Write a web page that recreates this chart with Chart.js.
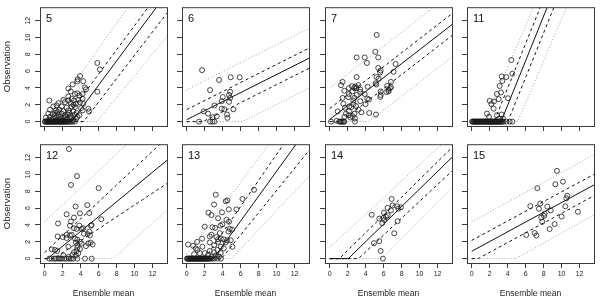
<!DOCTYPE html>
<html><head><meta charset="utf-8">
<script src="https://cdn.jsdelivr.net/npm/chart.js@4/dist/chart.umd.min.js"></script>
<style>
html,body{margin:0;padding:0;background:#fff;width:600px;height:302px;overflow:hidden;position:relative}
canvas{position:absolute}
</style></head><body>
<script>
// ---------- DATA ----------
const panelNames = ['5','6','7','11','12','13','14','15'];
const tickValues = [0,2,4,6,8,10,12];
const xTitle = 'Ensemble mean';
const yTitle = 'Observation';

// [ensemble mean, observation] pairs with observation > 0
const pts5 = [[5.85,6.97],[6.14,6.2],[3.93,5.42],[3.67,5.03],[3.11,4.42],[3.63,4.77],[2.63,3.94],[4.29,4.8],[4.48,4.06],[5.85,3.55],[4.59,3.83],[2.9,3.59],[3.37,3.28],[3.63,3.36],[3.85,3.09],[4.22,3.28],[2.63,2.98],[2.07,2.59],[2.63,2.51],[3.0,2.71],[3.26,2.51],[3.74,2.59],[4.22,2.71],[0.52,2.51],[1.52,2.2],[2.26,2.32],[2.89,2.2],[3.48,2.12],[3.93,2.28],[4.29,2.12],[0.96,1.8],[1.33,1.92],[1.89,1.8],[2.44,1.65],[3.0,1.8],[3.37,1.73],[4.22,1.34],[4.85,1.53],[4.93,1.22],[0.59,1.42],[1.26,1.34],[1.63,1.42],[2.07,1.26],[2.63,1.34],[3.18,1.22],[3.55,1.03],[0.4,0.95],[0.89,0.87],[1.15,1.03],[1.52,0.76],[1.89,0.95],[2.26,0.76],[2.55,0.87],[2.89,0.68],[3.29,0.84],[3.63,0.57],[3.85,0.76],[0.14,0.49],[0.59,0.57],[0.96,0.37],[1.33,0.49],[1.7,0.3],[2.07,0.45],[2.44,0.26],[2.81,0.37],[3.18,0.18],[3.48,0.33],[0.4,0.18],[1.33,0.1],[1.1,0.65],[1.75,0.6],[2.3,0.55],[2.7,1.05],[1.45,1.15],[0.75,0.25],[3.05,0.5],[2.0,0.15],[4.05,1.6],[3.2,2.0]];
const zero5 = [0.02,0.09,0.18,0.24,0.33,0.41,0.47,0.56,0.62,0.71,0.77,0.86,0.93,0.99,1.08,1.14,1.23,1.31,1.37,1.46,1.52,1.61,1.67,1.76,1.84,1.9,1.99,2.05,2.14,2.21,2.3,2.41,2.5,2.63,2.74,2.92,3.1,3.36];
const lines5 = [[-0.3,1.5],[-2.98,1.44],[-4.3,1.44],[-6.0,1.39],[-7.55,1.3]];

const pts6 = [[1.71,6.12],[3.6,4.95],[4.9,5.27],[5.9,5.27],[2.6,3.75],[4.83,3.55],[4.71,3.17],[4.01,2.93],[4.83,2.82],[3.9,2.43],[4.71,2.35],[3.09,1.92],[3.9,1.54],[4.2,1.46],[5.2,1.46],[1.9,1.22],[2.38,0.95],[4.49,0.84],[3.34,0.64],[2.87,0.52],[4.53,0.45]];
const zero6 = [1.38,2.6,2.87,3.09];
const lines6 = [[3.78,0.537],[1.43,0.537],[0.23,0.537],[-0.97,0.537],[-3.32,0.537]];

const pts7 = [[5.22,10.31],[5.07,8.3],[3.0,7.63],[3.89,7.63],[5.4,7.63],[4.14,6.97],[7.33,6.85],[5.4,6.39],[5.67,6.08],[7.11,5.92],[5.6,5.84],[3.0,5.3],[5.22,5.3],[5.44,5.11],[1.44,4.72],[5.11,4.56],[6.81,4.72],[5.19,4.41],[1.26,4.33],[2.48,4.21],[2.85,4.17],[3.19,4.33],[4.22,4.14],[6.4,4.25],[6.81,4.1],[2.14,3.98],[2.74,3.98],[2.96,3.98],[3.4,3.83],[6.7,3.98],[6.55,3.79],[1.63,3.67],[2.52,3.59],[3.37,3.55],[5.67,3.59],[6.3,3.51],[6.55,3.59],[2.14,3.28],[3.0,3.17],[3.89,3.28],[5.67,3.17],[1.44,2.82],[2.07,2.9],[2.74,2.82],[4.18,2.74],[4.37,2.63],[5.63,2.94],[2.63,2.51],[3.4,2.43],[1.52,2.12],[2.18,1.81],[2.63,2.05],[2.93,1.85],[3.99,2.08],[1.7,1.65],[2.41,1.73],[3.19,1.42],[3.52,1.11],[2.14,1.22],[0.89,1.22],[4.4,1.03],[5.15,0.84],[2.74,0.95],[1.81,0.95],[2.14,0.76],[2.55,0.64],[1.63,0.57],[2.3,0.49],[2.81,0.37],[0.78,0.1]];
const zero7 = [0.15,1.07,1.19,1.3,1.44,1.56,1.63,2.81];
const lines7 = [[4.0,0.83],[1.55,0.83],[0.25,0.83],[-1.05,0.83],[-3.6,0.83]];

const pts11 = [[4.41,7.32],[3.33,5.38],[3.85,5.3],[4.52,5.69],[3.41,4.82],[3.11,4.24],[2.81,3.28],[3.26,3.47],[4.04,2.78],[3.0,2.67],[2.0,2.47],[2.48,2.39],[2.19,2.08],[2.44,1.54],[1.7,0.95],[1.93,0.57],[2.81,0.76],[3.33,0.84],[3.04,0.37],[3.48,0.37]];
const zero11 = [0.04,0.13,0.19,0.29,0.35,0.44,0.51,0.57,0.66,0.72,0.81,0.87,0.96,1.02,1.11,1.17,1.26,1.32,1.41,1.47,1.56,1.62,1.71,1.77,1.86,1.92,2.01,2.07,2.16,2.22,2.31,2.37,2.46,2.52,2.61,2.67,2.76,2.82,2.91,2.97,3.06,3.12,3.21,3.31,3.43,3.56,3.85,4.22,4.52];
const lines11 = [[-3.53,2.49],[-6.62,2.65],[-8.66,2.65],[-10.65,2.65],[-12.73,2.49]];

const pts12 = [[2.7,13.03],[3.59,9.81],[2.92,8.76],[6.0,8.37],[3.44,6.2],[4.74,6.36],[3.92,5.38],[2.44,5.27],[4.96,5.42],[6.29,4.68],[3.26,4.88],[2.92,4.41],[1.48,4.18],[2.81,3.92],[3.85,3.92],[3.26,3.61],[3.55,3.53],[4.11,3.53],[4.29,3.61],[5.14,3.92],[5.22,4.0],[4.96,3.22],[4.37,2.95],[4.77,2.91],[2.44,2.84],[2.81,2.76],[3.0,2.84],[1.44,2.64],[2.0,2.57],[2.44,2.45],[3.37,2.38],[3.63,2.26],[5.03,2.76],[3.92,1.99],[3.48,1.91],[3.63,1.6],[4.11,1.79],[4.85,1.79],[5.11,1.91],[5.33,1.68],[4.59,1.49],[2.63,1.41],[3.63,1.3],[3.92,1.14],[0.78,1.1],[1.15,1.03],[1.4,0.91],[3.26,0.76],[3.55,0.91],[3.1,0.45],[3.48,0.37],[3.74,0.64],[2.07,0.37],[2.66,0.21]];
const zero12 = [0.52,0.78,1.07,1.26,1.52,1.7,1.89,2.18,2.44,2.7,2.92,3.18,3.63,4.48,5.22];
const lines12 = [[4.37,1.01],[0.72,1.005],[-0.28,0.88],[-0.7,0.708],[-7.3,0.96]];

const pts13 = [[7.49,8.18],[6.2,7.09],[3.23,7.6],[4.34,6.82],[4.53,6.93],[3.05,6.43],[4.68,5.85],[5.53,5.85],[2.42,5.46],[2.75,5.18],[3.93,5.5],[3.49,4.8],[4.42,4.61],[4.71,4.38],[3.97,4.07],[3.75,3.92],[2.01,3.8],[2.86,3.73],[3.16,3.65],[4.79,3.53],[5.05,3.45],[4.64,3.22],[3.68,3.03],[2.57,2.64],[2.75,2.84],[3.31,2.57],[3.79,2.37],[3.49,2.3],[4.12,2.3],[4.49,2.18],[4.9,2.18],[1.71,2.37],[1.16,1.99],[2.57,1.92],[3.49,1.99],[4.34,1.92],[5.08,1.41],[0.16,1.68],[0.71,1.53],[1.01,1.22],[1.19,1.03],[1.75,1.41],[3.05,1.6],[3.79,1.41],[4.12,1.22],[3.42,1.03],[1.45,0.66],[2.01,0.66],[2.57,0.91],[3.05,0.76],[3.79,0.66],[0.82,0.53],[2.38,0.45],[3.23,0.37],[3.6,0.25],[2.75,0.21]];
const zero13 = [0.02,0.11,0.17,0.26,0.33,0.41,0.47,0.56,0.63,0.71,0.78,0.87,0.93,1.01,1.08,1.17,1.23,1.31,1.38,1.47,1.53,1.61,1.68,1.77,1.83,1.91,1.98,2.07,2.14,2.23,2.31,2.41,2.52,2.66,2.85,3.1,3.45,3.8];
const lines13 = [[0.5,1.43],[-3.1,1.55],[-4.41,1.48],[-5.1,1.32],[-5.6,1.13]];

const pts14 = [[6.89,7.09],[7.0,6.32],[6.44,6.04],[7.51,6.22],[7.92,6.1],[7.63,5.94],[6.81,5.73],[6.03,5.46],[4.67,5.22],[6.44,5.15],[6.26,4.96],[5.52,4.76],[5.96,4.84],[5.85,4.22],[7.55,4.45],[7.18,3.01],[4.92,1.84],[5.52,2.07],[5.67,0.91],[6.07,4.6]];
const zero14 = [5.92];
const lines14 = [[1.38,0.98],[-1.13,1.054],[-2.16,1.044],[-3.19,1.0],[-6.24,1.08]];

const pts15 = [[9.48,10.43],[10.15,9.15],[7.3,8.37],[9.3,8.84],[10.63,7.48],[10.52,7.17],[6.52,6.24],[7.63,6.55],[7.48,5.92],[8.41,6.18],[8.78,5.73],[10.41,6.22],[8.11,5.34],[8.04,5.07],[7.74,4.88],[11.81,5.57],[10.0,5.0],[7.85,4.37],[9.22,4.1],[8.67,3.52],[6.07,2.82],[7.0,3.05],[7.19,2.74]];
const zero15 = [];
const lines15 = [[4.37,0.587],[2.16,0.578],[0.87,0.58],[-0.41,0.58],[-2.95,0.6]];

const allPts = [pts5,pts6,pts7,pts11,pts12,pts13,pts14,pts15];
const allZero = [zero5,zero6,zero7,zero11,zero12,zero13,zero14,zero15];
const allLines = [lines5,lines6,lines7,lines11,lines12,lines13,lines14,lines15];

// ---------- LAYOUT / STYLE ----------
const FONT = '"Liberation Sans", Arial, Helvetica, sans-serif';
const boxLeft = [40, 182, 325, 467];
const boxTop = [5, 142];
const BOX_W = 127, BOX_H = 121, PAD_L = 40, PAD_T = 5, PAD_R = 6, PAD_B = 38;
const AX = '#3a3a3a';
const lineStyles = [
  {borderColor:'#a0a0a0', borderDash:[1,2]},
  {borderColor:'#111', borderDash:[3,3]},
  {borderColor:'#111', borderDash:[]},
  {borderColor:'#111', borderDash:[3,3]},
  {borderColor:'#a0a0a0', borderDash:[1,2]}
];

// censored line: max(0, a + b x) drawn over the x range
function lineVertices(a, b) {
  const xEnd = 14;
  if (a >= 0) return [{x:0,y:a},{x:xEnd,y:a+b*xEnd}];
  const x0 = -a / b;
  return [{x:0,y:0},{x:x0,y:0},{x:xEnd,y:a+b*xEnd}];
}

const boxPlugin = {
  id: 'panelBox',
  afterDraw(chart, args, opts) {
    const {ctx, chartArea:{left,top,right,bottom}} = chart;
    ctx.save();
    ctx.strokeStyle = AX; ctx.lineWidth = 1;
    ctx.strokeRect(left + 0.5, top + 0.5, right - left, bottom - top);
    ctx.fillStyle = '#111';
    ctx.font = '11px ' + FONT;
    ctx.textBaseline = 'alphabetic';
    ctx.textAlign = 'left';
    ctx.fillText(opts.label, left + 6, top + 15);
    ctx.restore();
  }
};

panelNames.forEach((name, idx) => {
  const col = idx % 4, row = Math.floor(idx / 4);
  const W = PAD_L + BOX_W + PAD_R, H = PAD_T + BOX_H + PAD_B;
  const cv = document.createElement('canvas');
  cv.width = W; cv.height = H;
  cv.style.left = (boxLeft[col] - PAD_L) + 'px';
  cv.style.top = (boxTop[row] - PAD_T) + 'px';
  cv.style.width = W + 'px'; cv.style.height = H + 'px';
  document.body.appendChild(cv);

  const points = allPts[idx].map(p => ({x:p[0], y:p[1]}))
    .concat(allZero[idx].map(x => ({x, y:0})));
  const lineSets = allLines[idx].map((ab, k) => Object.assign({
    type:'line', data: lineVertices(ab[0], ab[1]), showLine:true, fill:false,
    pointRadius:0, borderWidth:1, tension:0, order:1
  }, lineStyles[k]));

  new Chart(cv, {
    type: 'scatter',
    data: { datasets: [...lineSets, {
      data: points, showLine:false, pointStyle:'circle', pointRadius:2.5,
      borderColor:'#1a1a1a', borderWidth:0.8, backgroundColor:'rgba(0,0,0,0)', order:0
    }]},
    options: {
      responsive:false, animation:false, devicePixelRatio:1,
      layout:{padding:{top:PAD_T, right:PAD_R, left:0, bottom:0}},
      plugins:{legend:{display:false}, tooltip:{enabled:false}, panelBox:{label:name}},
      events: [],
      scales: {
        x: {
          type:'linear', min:-0.52, max:13.6,
          afterBuildTicks: s => { s.ticks = tickValues.map(v => ({value:v})); },
          afterFit: s => { s.height = PAD_B; },
          ticks: {autoSkip:false, maxRotation:0, minRotation:0, padding:2,
                  color: row === 1 ? '#222' : 'rgba(0,0,0,0)',
                  font:{family:FONT, size:7}, callback: v => String(v)},
          grid: {drawOnChartArea:false, drawTicks:true, tickLength:5, color:AX, lineWidth:1},
          border: {display:false},
          title: {display: row === 1, text: xTitle, color:'#222',
                  font:{family:FONT, size:8.5}, padding:{top:0, bottom:2}}
        },
        y: {
          type:'linear', min:-0.52, max:13.6,
          afterBuildTicks: s => { s.ticks = tickValues.map(v => ({value:v})); },
          afterFit: s => { s.width = PAD_L; },
          ticks: {autoSkip:false, minRotation:90, maxRotation:90, crossAlign:'center', padding:3,
                  color: col === 0 ? '#222' : 'rgba(0,0,0,0)',
                  font:{family:FONT, size:7}, callback: v => String(v)},
          grid: {drawOnChartArea:false, drawTicks:true, tickLength:5, color:AX, lineWidth:1},
          border: {display:false},
          title: {display: col === 0, text: yTitle, color:'#222',
                  font:{family:FONT, size:9.5}, padding:{top:2, bottom:0}}
        }
      }
    },
    plugins: [boxPlugin]
  });
});
</script>
</body></html>
